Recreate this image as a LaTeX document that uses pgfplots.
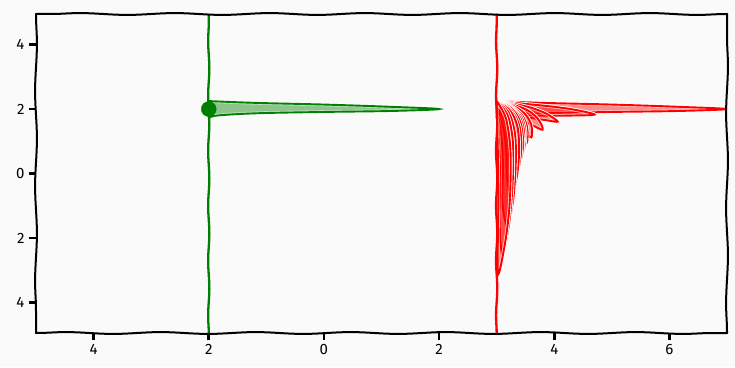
\documentclass[border=0pt]{standalone}
\usepackage{pgfplots}
\pgfplotsset{compat=1.18}
\usepackage{fontspec}
\setmainfont{Fira Sans}
\usetikzlibrary{decorations.pathmorphing}
\definecolor{bg}{RGB}{250,250,250}
\definecolor{mgreen}{RGB}{0,128,0}
\definecolor{mred}{RGB}{255,0,0}

\pgfplotsset{
  blade/.style={draw=#1, line width=1.9pt, fill=#1, fill opacity=0.25,
    draw opacity=1, smooth, tension=0.55,
    preaction={draw=white, line width=3.6pt, draw opacity=1}},
  stem/.style={draw=#1, line width=2.3pt, decorate,
    decoration={snake, amplitude=0.6pt, segment length=55pt}},
}
\tikzset{frame/.style={black, line width=2pt, line cap=round, decorate,
    decoration={snake, amplitude=0.9pt, segment length=95pt}}}

\begin{document}
\begin{tikzpicture}
\fill[bg] (-36pt,-34pt) rectangle (699pt,333pt);
\begin{axis}[
  name=ax, at={(0,0)}, anchor=south west,
  width=691pt, height=319pt, scale only axis,
  xmin=-5, xmax=7, ymin=-4.95, ymax=4.95,
  axis background/.style={fill=bg},
  axis line style={draw=none},
  tick align=outside, tick pos=left, major tick length=7pt,
  every tick/.style={black, line width=2.8pt},
  xtick={-4,-2,0,2,4,6}, xticklabels={4,2,0,2,4,6},
  ytick={-4,-2,0,2,4}, yticklabels={4,2,0,2,4},
  tick label style={font=\fontsize{15}{15}\selectfont},
  xticklabel style={yshift=-1pt},
  yticklabel style={xshift=-1pt},
]

% green blade
\addplot[blade=mgreen] coordinates {(-2,2.25) (-1.9,2.24) (-1.15,2.19) (0,2.14) (1.16,2.07) (2,2.0)
  (1.16,1.94) (0,1.91) (-1.15,1.87) (-1.85,1.80) (-2,1.72)} -- cycle;

% red blades, from straight to fully drooped
\addplot[blade=mred] coordinates {(3,2.25) (3.1,2.24) (3.85,2.19) (5,2.14) (6.16,2.07) (7,2.0)
  (6.16,1.94) (5,1.91) (3.85,1.87) (3.15,1.80) (3,1.72)} -- cycle;
\addplot[blade=mred] coordinates {(3,2.25) (3.50,2.16) (3.95,2.08) (4.35,1.98) (4.70,1.83)
  (4.34,1.80) (3.94,1.79) (3.49,1.79) (3,1.70)} -- cycle;
\addplot[blade=mred] coordinates {(3,2.25) (3.33,2.15) (3.62,2.03) (3.87,1.85) (4.06,1.61)
  (3.84,1.66) (3.60,1.72) (3.32,1.77) (3,1.70)} -- cycle;
\addplot[blade=mred] coordinates {(3,2.25) (3.29,2.13) (3.54,1.96) (3.72,1.69) (3.80,1.36)
  (3.62,1.50) (3.44,1.66) (3.23,1.76) (3,1.70)} -- cycle;
\addplot[blade=mred] coordinates {(3,2.25) (3.27,2.11) (3.48,1.87) (3.60,1.52) (3.60,1.12)
  (3.44,1.40) (3.32,1.62) (3.16,1.76) (3,1.70)} -- cycle;
\addplot[blade=mred] coordinates {(3,2.25) (3.25,2.09) (3.44,1.81) (3.53,1.42) (3.52,0.95)
  (3.39,1.32) (3.28,1.60) (3.14,1.76) (3,1.70)} -- cycle;
\addplot[blade=mred] coordinates {(3,2.25) (3.25,2.07) (3.43,1.75) (3.50,1.30) (3.46,0.70)
  (3.34,1.20) (3.24,1.55) (3.12,1.75) (3,1.70)} -- cycle;
\addplot[blade=mred] coordinates {(3,2.25) (3.25,2.05) (3.42,1.69) (3.48,1.15) (3.40,0.45)
  (3.29,1.06) (3.21,1.52) (3.10,1.75) (3,1.70)} -- cycle;
\addplot[blade=mred] coordinates {(3,2.25) (3.25,2.03) (3.41,1.61) (3.46,1.00) (3.43,0.50) (3.34,0.12)
  (3.25,0.58) (3.21,1.08) (3.14,1.52) (3.06,1.75) (3,1.70)} -- cycle;
\addplot[blade=mred] coordinates {(3,2.25) (3.24,1.99) (3.39,1.51) (3.43,0.85) (3.39,0.25) (3.30,-0.28)
  (3.21,0.28) (3.19,0.88) (3.13,1.43) (3.05,1.74) (3,1.70)} -- cycle;
\addplot[blade=mred] coordinates {(3,2.25) (3.23,1.96) (3.36,1.46) (3.39,0.70) (3.35,-0.10) (3.25,-0.72)
  (3.18,-0.10) (3.17,0.68) (3.12,1.38) (3.04,1.74) (3,1.70)} -- cycle;
\addplot[blade=mred] coordinates {(3,2.25) (3.21,1.89) (3.32,1.21) (3.33,0.20) (3.28,-0.90) (3.18,-1.62)
  (3.10,-0.90) (3.11,0.20) (3.08,1.18) (3.02,1.74) (3,1.70)} -- cycle;
\addplot[blade=mred] coordinates {(3,2.25) (3.19,1.81) (3.28,1.01) (3.28,-0.20) (3.22,-1.50) (3.10,-2.52)
  (3.05,-1.50) (3.06,-0.20) (3.04,1.00) (3.01,1.72) (3,1.70)} -- cycle;
\addplot[blade=mred] coordinates {(3,2.25) (3.16,1.71) (3.24,0.70) (3.23,-0.80) (3.16,-2.00) (3.03,-3.12)
  (3.02,-2.00) (3.03,-0.80) (3.02,0.70) (3.005,1.67) (3,1.70)} -- cycle;

% stems
\addplot[stem=mgreen] coordinates {(-2,-4.95) (-2,4.95)};
\addplot[stem=mred] coordinates {(3,-4.95) (3,4.95)};

% pivot
\addplot[only marks, mark=*, mark size=7.5pt, color=mgreen] coordinates {(-2,2)};
\end{axis}
% hand-drawn frame
\draw[frame] (ax.south west) -- (ax.south east);
\draw[frame] (ax.south east) -- (ax.north east);
\draw[frame] (ax.north east) -- (ax.north west);
\draw[frame] (ax.north west) -- (ax.south west);
\end{tikzpicture}
\end{document}
